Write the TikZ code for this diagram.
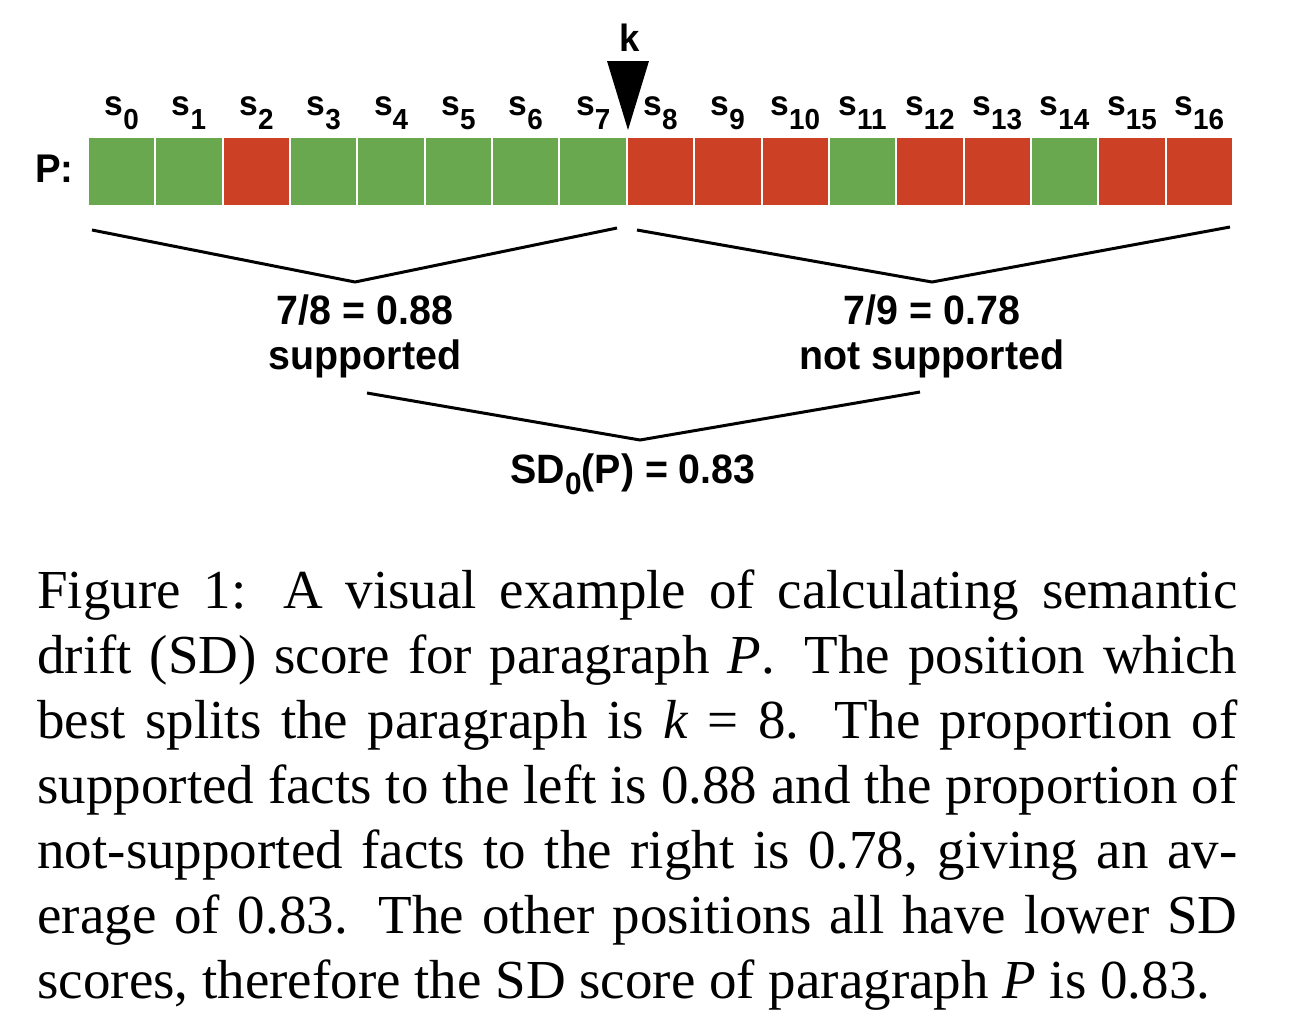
\documentclass[tikz,border=0pt]{standalone}
\usepackage{fontspec}
\setmainfont{Liberation Serif}
\newfontfamily\diagfont[FakeStretch=0.96]{Liberation Sans}
\usepackage{tikz}
\usetikzlibrary{positioning}

\definecolor{suppgreen}{HTML}{6AA84F}
\definecolor{nosuppred}{HTML}{CC4125}

\newcommand{\sidx}[2][-0.4em]{\raisebox{#1}{\fontsize{14.5}{14.5}\selectfont #2}}

\tikzset{
    cell/.style={minimum width=33.675pt,minimum height=34.5pt,inner sep=0pt,draw=white,line width=1pt},
    slabel/.style={font=\diagfont\bfseries\fontsize{17.5}{17.5}\selectfont,inner sep=0pt,anchor=base},
    score/.style={font=\diagfont\bfseries\fontsize{20.5}{20.5}\selectfont,inner sep=0pt,anchor=base},
    vline/.style={line width=1.5pt}
}

\begin{document}
\begin{tikzpicture}[x=0.5pt,y=-0.5pt]
    \useasboundingbox (0,0) rectangle (1292,1030);
    \foreach \col [count=\i from 0] in {suppgreen,suppgreen,nosuppred,suppgreen,suppgreen,suppgreen,suppgreen,suppgreen,nosuppred,nosuppred,nosuppred,suppgreen,nosuppred,nosuppred,suppgreen,nosuppred,nosuppred}
    {
        \node[cell,fill=\col] (c\i) at ({121.7+67.35*\i},171.5) {};
        \node[slabel] (s\i) at ([yshift=10.5pt]c\i.north) {s\sidx{\i}};
    }
    \node[slabel,anchor=east,font=\diagfont\bfseries\fontsize{20}{20}\selectfont,left=6.5pt of c0,yshift=1.5pt] (p) {P:};
    \fill (607,61) -- (649,61) -- (628,130) -- cycle;
    \node[slabel,font=\diagfont\bfseries\fontsize{19}{19}\selectfont] (k) at (629.5,51.7) {k};
    \draw[vline] (92,230) -- (355,282) -- (617,228);
    \draw[vline] (637,230) -- (932,282) -- (1230,227);
    \node[score] (fracl) at (365,324) {7/8 = 0.88};
    \node[score] (suppl) at (365,369) {supported};
    \node[score] (fracr) at (932,324) {7/9 = 0.78};
    \node[score] (suppr) at (932,369) {not supported};
    \draw[vline] (367,393) -- (640,440) -- (920,392);
    \node[score] (sd) at (633,483) {SD\sidx[-0.27em]{\fontsize{15.5}{15.5}\selectfont 0}(P) = 0.83};
    \node[anchor=north west,inner sep=0pt,text width=600pt,align=justify,font=\fontsize{27.5}{32.5}\selectfont] (caption) at (37,569)
    {Figure 1: A visual example of calculating semantic\linebreak
    drift (SD) score for paragraph \textit{P}\@. The position which\linebreak
    best splits the paragraph is \textit{k}~=~8. The proportion of\linebreak
    supported facts to the left is 0.88 and the proportion of\linebreak
    not-supported facts to the right is 0.78, giving an av-\linebreak
    erage of 0.83. The other positions all have lower SD\linebreak
    scores, therefore the SD score of paragraph \textit{P} is 0.83.};
\end{tikzpicture}
\end{document}
